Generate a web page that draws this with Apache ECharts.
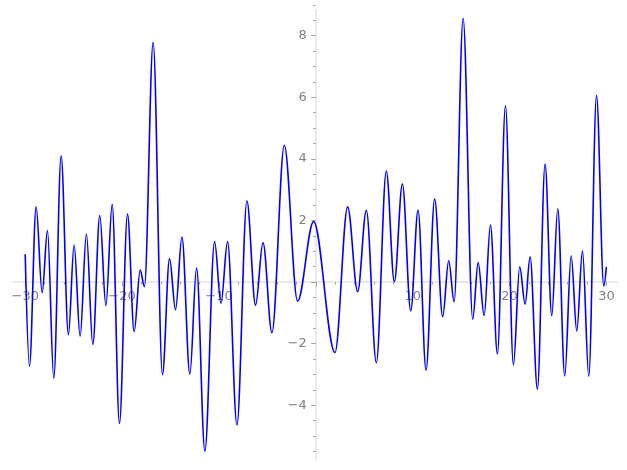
<!DOCTYPE html>
<html>
<head>
<meta charset="utf-8">
<script src="https://cdn.jsdelivr.net/npm/echarts@6/dist/echarts.min.js"></script>
<style>html,body{margin:0;padding:0;background:#fff}#c{width:627px;height:470px}</style>
</head>
<body>
<div id="c"></div>
<script>
// Extrema of the curve (x, y)
const xs = [-30.0, -29.56, -28.87, -28.25, -27.70, -27.05, -26.29, -25.54, -24.95, -24.33,
  -23.68, -23.02, -22.30, -21.67, -21.02, -20.27, -19.44, -18.75, -18.13, -17.69,
  -16.79, -15.83, -15.10, -14.48, -13.82, -13.00, -12.31, -11.45, -10.45, -9.79,
  -9.11, -8.14, -7.11, -6.22, -5.45, -4.53, -3.25, -1.88, -0.23, 1.98,
  3.29, 4.32, 5.22, 6.25, 7.28, 8.11, 8.94, 9.80, 10.56, 11.38,
  12.27, 13.10, 13.72, 14.28, 15.21, 16.20, 16.76, 17.38, 18.03, 18.75,
  19.58, 20.40, 21.05, 21.61, 22.12, 22.88, 23.67, 24.36, 24.98, 25.70,
  26.36, 26.94, 27.53, 28.18, 28.98, 29.73, 30.0];
const ys = [0.90, -2.73, 2.44, -0.35, 1.67, -3.12, 4.10, -1.71, 1.20, -1.76,
  1.56, -2.03, 2.16, -0.77, 2.52, -4.59, 2.21, -1.61, 0.39, -0.15,
  7.78, -3.01, 0.76, -0.90, 1.46, -2.99, 0.45, -5.49, 1.31, -0.69,
  1.31, -4.64, 2.63, -0.75, 1.28, -1.65, 4.44, -0.62, 1.96, -2.29,
  2.44, -0.31, 2.33, -2.62, 3.60, 0.01, 3.18, -0.93, 2.33, -2.86,
  2.69, -1.13, 0.69, -0.64, 8.56, -1.21, 0.63, -1.09, 1.85, -2.34,
  5.72, -2.69, 0.49, -0.72, 0.82, -3.48, 3.83, -1.09, 2.38, -3.05,
  0.85, -1.59, 1.01, -3.06, 6.06, -0.13, 0.49];
const xTicks = [-30, -20, -10, 0, 10, 20, 30];
const yTicks = [-4, -2, 0, 2, 4, 6, 8];

const fmt = v => v === 0 ? '' : (v < 0 ? '\u2212' + (-v) : String(v));
const lineCol = '#e2e2e2';
const tickCol = '#a0a0a0';
const labCol = '#808080';
const font = 'DejaVu Sans';
const fsize = 13;

const chart = echarts.init(document.getElementById('c'), null, {renderer: 'canvas'});
chart.setOption({
  animation: false,
  backgroundColor: '#ffffff',
  grid: [
    {left: 12.7, right: 10, top: 10, bottom: 10, outerBoundsMode: 'none', containLabel: false},
    {left: 25.2, right: 20.6, top: -26, bottom: 3.2, outerBoundsMode: 'none', containLabel: false},
    {left: 25.2, right: 20.6, top: 0, bottom: 188, outerBoundsMode: 'none', containLabel: false},
    {left: 315.7, right: 0, top: -26, bottom: 3.2, outerBoundsMode: 'none', containLabel: false}
  ],
  xAxis: [
    {type: 'value', gridIndex: 0, min: -31.28, max: 31.15,
      axisLine: {show: true, onZero: true, lineStyle: {color: lineCol, width: 1.5}},
      axisTick: {show: false}, axisLabel: {show: false}, splitLine: {show: false}},
    {type: 'value', gridIndex: 1, min: xTicks[0], max: xTicks[xTicks.length - 1], show: false,
      axisLine: {onZero: false}, splitLine: {show: false}},
    {type: 'value', gridIndex: 2, position: 'bottom', min: xTicks[0], max: xTicks[xTicks.length - 1], interval: 10,
      axisLine: {show: true, onZero: false, lineStyle: {color: 'rgba(0,0,0,0)'}},
      axisTick: {show: true, length: 4.5, lineStyle: {color: tickCol, width: 1}},
      minorTick: {show: true, splitNumber: 5, length: 2.5, lineStyle: {color: tickCol, width: 1}},
      axisLabel: {show: true, color: labCol, fontFamily: font, fontSize: fsize, margin: 8,
        showMinLabel: true, showMaxLabel: true, formatter: fmt},
      splitLine: {show: false}, minorSplitLine: {show: false}},
    {type: 'value', gridIndex: 3, min: 0, max: 1, show: false, splitLine: {show: false}}
  ],
  yAxis: [
    {type: 'value', gridIndex: 0, min: -5.78, max: 8.83,
      axisLine: {show: true, onZero: true, lineStyle: {color: lineCol, width: 1.5}},
      axisTick: {show: false}, axisLabel: {show: false}, splitLine: {show: false}},
    {type: 'value', gridIndex: 1, min: -6, max: 10, show: false,
      axisLine: {onZero: false}, splitLine: {show: false}},
    {type: 'value', gridIndex: 2, min: 0, max: 1, show: false, splitLine: {show: false}},
    {type: 'value', gridIndex: 3, position: 'left', min: -6, max: 10, interval: 2,
      axisLine: {show: true, onZero: false, lineStyle: {color: 'rgba(0,0,0,0)'}},
      axisTick: {show: true, length: 4.5, customValues: yTicks, lineStyle: {color: tickCol, width: 1}},
      minorTick: {show: true, splitNumber: 4, length: 2.5, lineStyle: {color: tickCol, width: 1}},
      axisLabel: {show: true, color: labCol, fontFamily: font, fontSize: fsize, margin: 9,
        customValues: yTicks, formatter: fmt},
      splitLine: {show: false}, minorSplitLine: {show: false}}
  ],
  series: [{
    type: 'line', xAxisIndex: 1, yAxisIndex: 1,
    data: xs.map((x, i) => [x, ys[i]]),
    smooth: 0.35, smoothMonotone: 'x',
    showSymbol: false, symbol: 'none',
    lineStyle: {color: '#0000ff', width: 1.6},
    clip: false
  }]
});
</script>
</body>
</html>
